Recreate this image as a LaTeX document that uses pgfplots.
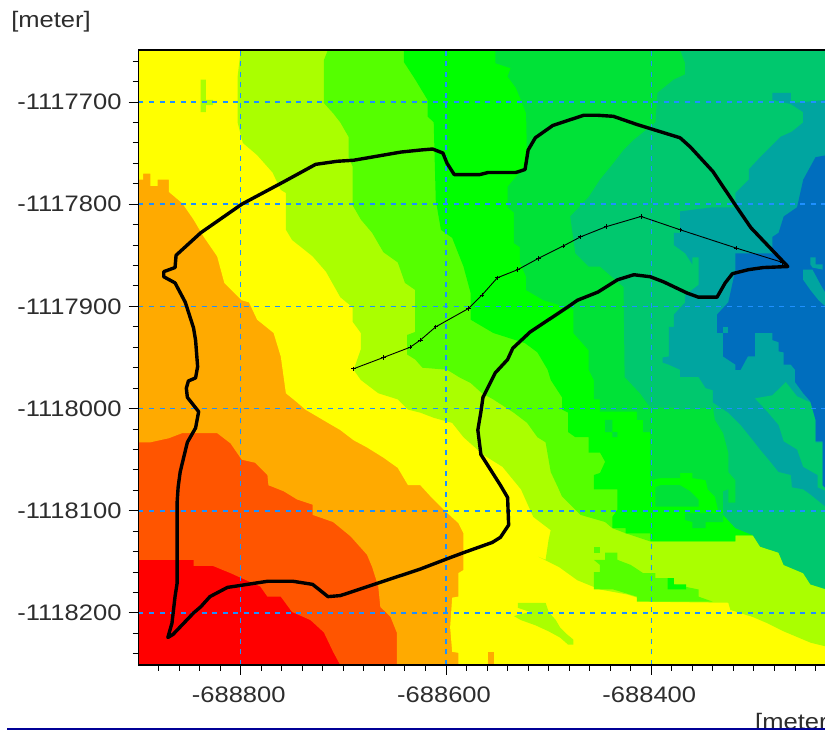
\documentclass[border=0pt]{standalone}
\usepackage{fontspec}
\setmainfont{Liberation Sans}[FakeStretch=1.14]
\usepackage{pgfplots}
\pgfplotsset{compat=1.18}
\definecolor{cA}{RGB}{255,0,0}
\definecolor{cB}{RGB}{255,85,0}
\definecolor{cC}{RGB}{255,170,0}
\definecolor{cD}{RGB}{255,255,0}
\definecolor{cE}{RGB}{170,255,0}
\definecolor{cF}{RGB}{85,255,0}
\definecolor{cG}{RGB}{0,255,0}
\definecolor{cH}{RGB}{0,226,55}
\definecolor{cI}{RGB}{0,200,110}
\definecolor{cJ}{RGB}{0,165,160}
\definecolor{cK}{RGB}{0,110,190}
\definecolor{gridblue}{RGB}{30,144,255}
\definecolor{labelgray}{RGB}{45,45,45}
\definecolor{rulenavy}{RGB}{0,0,150}
\pgfplotsset{
  frame/.style={
    at={(138.5pt,65pt)}, anchor=south west, scale only axis,
    width=687.5pt, height=615pt,
    xmin=-688899.6, xmax=-688229.8,
    ymin=-1118250.9, ymax=-1117649.1,
    scaled ticks=false,
  },
}
\newcommand{\lbl}{\fontsize{22.4}{24}\selectfont\color{labelgray}}
\begin{document}
\begin{tikzpicture}
\path[use as bounding box, clip] (0,0) rectangle (825pt,730pt);
\begin{axis}[frame,
  axis on top,
  axis line style={black, line width=1.4pt},
  xtick={-688800,-688600,-688400},
  xticklabels={-688800,-688600,-688400},
  ytick={-1117700,-1117800,-1117900,-1118000,-1118100,-1118200},
  yticklabels={-1117700,-1117800,-1117900,-1118000,-1118100,-1118200},
  minor xtick={-688880,-688860,-688840,-688820,-688780,-688760,-688740,-688720,-688700,-688680,-688660,-688640,-688620,-688580,-688560,-688540,-688520,-688500,-688480,-688460,-688440,-688420,-688380,-688360,-688340,-688320,-688300,-688280,-688260,-688240},
  minor ytick={-1117660,-1117680,-1117720,-1117740,-1117760,-1117780,-1117820,-1117840,-1117860,-1117880,-1117920,-1117940,-1117960,-1117980,-1118020,-1118040,-1118060,-1118080,-1118120,-1118140,-1118160,-1118180,-1118220,-1118240},
  xtick pos=lower, ytick pos=left, tick align=outside,
  major tick length=10pt, minor tick length=6pt,
  tick style={black, line width=1pt},
  minor tick style={black, line width=1pt},
  grid=major,
  major grid style={gridblue, line width=1.5pt, dash pattern=on 5pt off 5.5pt},
  tick label style={font=\lbl},
  xticklabel style={yshift=-8pt, xshift=-2pt},
  yticklabel style={xshift=-3.5pt},
]
% colour bands, lowest level first
\addplot[fill=cA,draw=none] coordinates {(-688900,-1117649)(-688229,-1117649)(-688229,-1118251)(-688900,-1118251)};
\addplot[fill=cB,draw=none] coordinates {(-688900,-1118148)(-688846,-1118148)(-688846,-1118154)(-688827,-1118154)(-688810,-1118161)(-688799,-1118166)(-688781,-1118174)(-688774,-1118184)(-688761,-1118184)(-688750,-1118199)(-688732,-1118207)(-688719,-1118219)(-688710,-1118238)(-688703,-1118251)(-688229,-1118251)(-688229,-1117649)(-688900,-1117649)};
\addplot[fill=cC,draw=none] coordinates {(-688900,-1118033)(-688888,-1118033)(-688870,-1118029)(-688857,-1118024)(-688823,-1118024)(-688810,-1118034)(-688799,-1118050)(-688786,-1118053)(-688774,-1118065)(-688773,-1118075)(-688758,-1118081)(-688745,-1118089)(-688730,-1118094)(-688730,-1118104)(-688710,-1118111)(-688693,-1118125)(-688677,-1118143)(-688672,-1118155)(-688666,-1118174)(-688664,-1118194)(-688654,-1118204)(-688648,-1118219)(-688648,-1118251)(-688229,-1118251)(-688229,-1117649)(-688900,-1117649)};
\addplot[fill=cD,draw=none] coordinates {(-688900,-1117776)(-688895,-1117776)(-688895,-1117770)(-688888,-1117770)(-688888,-1117782)(-688881,-1117782)(-688881,-1117776)(-688870,-1117776)(-688870,-1117788)(-688857,-1117799)(-688846,-1117815)(-688836,-1117832)(-688823,-1117851)(-688816,-1117877)(-688799,-1117894)(-688792,-1117896)(-688784,-1117913)(-688768,-1117926)(-688761,-1117949)(-688756,-1117985)(-688745,-1117994)(-688737,-1118001)(-688715,-1118014)(-688703,-1118021)(-688690,-1118031)(-688677,-1118038)(-688661,-1118048)(-688647,-1118058)(-688637,-1118075)(-688625,-1118075)(-688615,-1118086)(-688599,-1118102)(-688588,-1118112)(-688583,-1118122)(-688583,-1118158)(-688588,-1118161)(-688588,-1118184)(-688594,-1118185)(-688596,-1118214)(-688594,-1118238)(-688588,-1118239)(-688588,-1118251)(-688229,-1118251)(-688229,-1117649)(-688900,-1117649)};
\addplot[fill=cC,draw=none] coordinates {(-688559,-1118238)(-688553,-1118238)(-688553,-1118251)(-688559,-1118251)};
\addplot[fill=cE,draw=none] coordinates {(-688800,-1117649)(-688803,-1117675)(-688803,-1117720)(-688798,-1117740)(-688784,-1117752)(-688769,-1117769)(-688761,-1117786)(-688756,-1117789)(-688756,-1117825)(-688750,-1117835)(-688730,-1117851)(-688717,-1117866)(-688703,-1117891)(-688691,-1117901)(-688691,-1117915)(-688683,-1117926)(-688683,-1117942)(-688690,-1117962)(-688683,-1117972)(-688666,-1117985)(-688647,-1117991)(-688637,-1118001)(-688625,-1118004)(-688612,-1118009)(-688594,-1118014)(-688583,-1118028)(-688564,-1118045)(-688545,-1118057)(-688527,-1118079)(-688515,-1118106)(-688498,-1118119)(-688500,-1118128)(-688503,-1118148)(-688510,-1118145)(-688490,-1118155)(-688472,-1118168)(-688450,-1118177)(-688423,-1118182)(-688401,-1118189)(-688325,-1118190)(-688323,-1118197)(-688301,-1118204)(-688287,-1118210)(-688271,-1118218)(-688245,-1118229)(-688229,-1118233)(-688229,-1117649)};
\addplot[fill=cE,draw=none] coordinates {(-688839,-1117678)(-688834,-1117678)(-688834,-1117698)(-688827,-1117698)(-688827,-1117703)(-688834,-1117703)(-688834,-1117710)(-688839,-1117710)};
\addplot[fill=cE,draw=none] coordinates {(-688792,-1117733)(-688786,-1117733)(-688786,-1117740)(-688792,-1117740)};
\addplot[fill=cE,draw=none] coordinates {(-688530,-1118190)(-688503,-1118190)(-688500,-1118199)(-688493,-1118207)(-688489,-1118214)(-688482,-1118221)(-688476,-1118226)(-688476,-1118231)(-688481,-1118231)(-688489,-1118224)(-688500,-1118218)(-688513,-1118212)(-688527,-1118207)(-688534,-1118203)(-688518,-1118199)(-688530,-1118195)};
\addplot[fill=cF,draw=none] coordinates {(-688715,-1117649)(-688719,-1117659)(-688719,-1117701)(-688710,-1117711)(-688703,-1117720)(-688695,-1117734)(-688695,-1117754)(-688691,-1117763)(-688691,-1117801)(-688683,-1117815)(-688672,-1117828)(-688661,-1117847)(-688647,-1117857)(-688640,-1117877)(-688630,-1117884)(-688630,-1117925)(-688638,-1117928)(-688638,-1117947)(-688630,-1117952)(-688623,-1117960)(-688599,-1117962)(-688586,-1117970)(-688576,-1117975)(-688565,-1117985)(-688554,-1117991)(-688534,-1118004)(-688521,-1118014)(-688511,-1118028)(-688503,-1118033)(-688498,-1118062)(-688491,-1118077)(-688487,-1118086)(-688479,-1118094)(-688469,-1118104)(-688445,-1118111)(-688438,-1118117)(-688425,-1118122)(-688401,-1118130)(-688318,-1118130)(-688318,-1118124)(-688301,-1118124)(-688294,-1118135)(-688276,-1118141)(-688271,-1118153)(-688252,-1118161)(-688245,-1118172)(-688229,-1118177)(-688229,-1117649)};
\addplot[fill=cF,draw=none] coordinates {(-688456,-1118148)(-688445,-1118148)(-688445,-1118141)(-688433,-1118141)(-688433,-1118148)(-688420,-1118153)(-688408,-1118161)(-688396,-1118161)(-688396,-1118166)(-688384,-1118166)(-688378,-1118172)(-688354,-1118177)(-688354,-1118184)(-688340,-1118189)(-688414,-1118189)(-688414,-1118184)(-688437,-1118177)(-688456,-1118177)(-688456,-1118160)(-688450,-1118160)(-688450,-1118153)};
\addplot[fill=cF,draw=none] coordinates {(-688456,-1118135)(-688450,-1118135)(-688450,-1118141)(-688456,-1118141)};
\addplot[fill=cG,draw=none] coordinates {(-688384,-1118166)(-688378,-1118166)(-688378,-1118172)(-688366,-1118172)(-688366,-1118177)(-688384,-1118177)};
\addplot[fill=cG,draw=none] coordinates {(-688641,-1117649)(-688641,-1117661)(-688630,-1117678)(-688618,-1117698)(-688618,-1117714)(-688612,-1117720)(-688610,-1117796)(-688605,-1117825)(-688594,-1117833)(-688583,-1117861)(-688576,-1117887)(-688576,-1117913)(-688554,-1117926)(-688523,-1117936)(-688511,-1117945)(-688501,-1117962)(-688498,-1117972)(-688487,-1117989)(-688487,-1118001)(-688481,-1118004)(-688481,-1118023)(-688474,-1118028)(-688461,-1118028)(-688461,-1118043)(-688450,-1118043)(-688445,-1118052)(-688450,-1118063)(-688456,-1118065)(-688456,-1118079)(-688433,-1118079)(-688433,-1118099)(-688438,-1118106)(-688438,-1118117)(-688425,-1118117)(-688425,-1118122)(-688401,-1118122)(-688401,-1118130)(-688318,-1118130)(-688318,-1118124)(-688229,-1118124)(-688229,-1117649)};
\addplot[fill=cH,draw=none] coordinates {(-688552,-1117649)(-688552,-1117662)(-688537,-1117667)(-688540,-1117675)(-688532,-1117686)(-688527,-1117698)(-688522,-1117711)(-688521,-1117760)(-688540,-1117783)(-688540,-1117803)(-688534,-1117808)(-688534,-1117838)(-688528,-1117842)(-688528,-1117857)(-688522,-1117871)(-688522,-1117884)(-688505,-1117894)(-688476,-1117903)(-688476,-1117926)(-688461,-1117943)(-688461,-1117962)(-688456,-1117972)(-688456,-1117991)(-688450,-1117991)(-688450,-1118003)(-688414,-1118003)(-688414,-1118011)(-688408,-1118011)(-688408,-1118023)(-688401,-1118023)(-688401,-1118070)(-688391,-1118068)(-688372,-1118068)(-688372,-1118063)(-688360,-1118063)(-688360,-1118068)(-688347,-1118070)(-688345,-1118079)(-688338,-1118086)(-688335,-1118099)(-688229,-1118099)(-688229,-1117649)};
\addplot[fill=cH,draw=none] coordinates {(-688396,-1118077)(-688391,-1118075)(-688372,-1118075)(-688362,-1118081)(-688354,-1118089)(-688354,-1118096)(-688396,-1118096)};
\addplot[fill=cH,draw=none] coordinates {(-688367,-1118102)(-688330,-1118102)(-688330,-1118111)(-688347,-1118111)(-688347,-1118117)(-688360,-1118117)(-688360,-1118111)(-688367,-1118109)};
\addplot[fill=cH,draw=none] coordinates {(-688445,-1118011)(-688438,-1118011)(-688438,-1118023)(-688433,-1118023)(-688433,-1118028)(-688438,-1118028)(-688438,-1118023)(-688445,-1118023)};
\addplot[fill=cI,draw=none] coordinates {(-688372,-1117649)(-688367,-1117662)(-688367,-1117673)(-688378,-1117678)(-688394,-1117691)(-688396,-1117720)(-688417,-1117737)(-688427,-1117747)(-688437,-1117760)(-688450,-1117776)(-688461,-1117793)(-688479,-1117812)(-688474,-1117848)(-688461,-1117861)(-688450,-1117861)(-688427,-1117881)(-688426,-1117969)(-688411,-1117985)(-688401,-1117999)(-688376,-1117999)(-688372,-1118001)(-688340,-1117999)(-688338,-1118011)(-688330,-1118024)(-688325,-1118043)(-688325,-1118062)(-688318,-1118070)(-688318,-1118092)(-688325,-1118092)(-688325,-1118079)(-688330,-1118081)(-688330,-1118104)(-688318,-1118117)(-688301,-1118124)(-688294,-1118135)(-688276,-1118141)(-688271,-1118153)(-688252,-1118161)(-688245,-1118172)(-688229,-1118177)(-688229,-1117649)};
\addplot[fill=cJ,draw=none] coordinates {(-688229,-1117698)(-688264,-1117701)(-688264,-1117691)(-688282,-1117691)(-688282,-1117698)(-688264,-1117702)(-688252,-1117710)(-688252,-1117720)(-688263,-1117729)(-688274,-1117734)(-688294,-1117754)(-688305,-1117766)(-688305,-1117776)(-688318,-1117789)(-688318,-1117803)(-688340,-1117803)(-688372,-1117807)(-688372,-1117828)(-688378,-1117828)(-688378,-1117840)(-688367,-1117848)(-688360,-1117859)(-688360,-1117852)(-688354,-1117852)(-688354,-1117879)(-688367,-1117889)(-688367,-1117896)(-688378,-1117908)(-688378,-1117920)(-688383,-1117920)(-688383,-1117949)(-688389,-1117950)(-688389,-1117955)(-688383,-1117957)(-688372,-1117962)(-688372,-1117969)(-688354,-1117969)(-688347,-1117980)(-688340,-1117982)(-688340,-1117994)(-688325,-1118004)(-688313,-1118016)(-688301,-1118031)(-688294,-1118040)(-688284,-1118052)(-688276,-1118062)(-688264,-1118065)(-688263,-1118077)(-688252,-1118079)(-688245,-1118084)(-688229,-1118097)};
\addplot[fill=cI,draw=none] coordinates {(-688299,-1117990)(-688282,-1117987)(-688269,-1117974)(-688258,-1117988)(-688245,-1117994)(-688240,-1118011)(-688240,-1118033)(-688233,-1118033)(-688233,-1118075)(-688229,-1118081)(-688238,-1118077)(-688238,-1118065)(-688252,-1118057)(-688258,-1118040)(-688271,-1118032)(-688276,-1118016)(-688287,-1118003)};
\addplot[fill=cK,draw=none] coordinates {(-688229,-1117752)(-688240,-1117754)(-688252,-1117776)(-688258,-1117803)(-688271,-1117812)(-688276,-1117828)(-688282,-1117832)(-688282,-1117848)(-688318,-1117848)(-688318,-1117864)(-688325,-1117896)(-688336,-1117908)(-688336,-1117926)(-688330,-1117926)(-688330,-1117949)(-688318,-1117957)(-688318,-1117962)(-688313,-1117962)(-688306,-1117949)(-688299,-1117949)(-688299,-1117926)(-688282,-1117926)(-688282,-1117933)(-688276,-1117935)(-688276,-1117944)(-688271,-1117945)(-688271,-1117957)(-688264,-1117957)(-688260,-1117962)(-688260,-1117974)(-688252,-1117985)(-688245,-1117993)(-688240,-1118011)(-688240,-1118032)(-688233,-1118032)(-688233,-1118075)(-688229,-1118079)};
\addplot[fill=cJ,draw=none] coordinates {(-688330,-1117920)(-688325,-1117920)(-688325,-1117926)(-688330,-1117926)};
\addplot[fill=cJ,draw=none] coordinates {(-688252,-1117864)(-688243,-1117864)(-688235,-1117879)(-688229,-1117889)(-688229,-1117901)(-688237,-1117894)(-688245,-1117884)(-688252,-1117874)};
\addplot[fill=cJ,draw=none] coordinates {(-688245,-1117852)(-688240,-1117852)(-688240,-1117859)(-688233,-1117859)(-688233,-1117864)(-688243,-1117862)(-688245,-1117859)};
\end{axis}
\begin{axis}[frame, hide axis]
% boundary
\addplot[black, line width=3.4pt, line join=round] coordinates {(-688799,-1117800)(-688758,-1117778)(-688727,-1117761)(-688706,-1117758)(-688690,-1117757)(-688644,-1117749)(-688625,-1117747)(-688613,-1117746)(-688603,-1117750)(-688599,-1117760)(-688592,-1117771)(-688567,-1117771)(-688559,-1117769)(-688532,-1117769)(-688523,-1117766)(-688520,-1117747)(-688513,-1117735)(-688496,-1117723)(-688466,-1117713)(-688452,-1117713)(-688437,-1117714)(-688414,-1117722)(-688372,-1117735)(-688362,-1117744)(-688340,-1117768)(-688318,-1117801)(-688303,-1117823)(-688267,-1117861)(-688291,-1117862)(-688305,-1117864)(-688321,-1117868)(-688328,-1117877)(-688336,-1117891)(-688354,-1117891)(-688365,-1117887)(-688388,-1117876)(-688401,-1117871)(-688417,-1117869)(-688433,-1117874)(-688452,-1117886)(-688472,-1117894)(-688482,-1117901)(-688518,-1117925)(-688535,-1117941)(-688540,-1117952)(-688552,-1117965)(-688564,-1117989)(-688566,-1118003)(-688569,-1118021)(-688566,-1118045)(-688547,-1118075)(-688540,-1118087)(-688539,-1118114)(-688547,-1118126)(-688555,-1118131)(-688583,-1118141)(-688599,-1118147)(-688625,-1118157)(-688664,-1118170)(-688703,-1118183)(-688715,-1118184)(-688730,-1118172)(-688749,-1118169)(-688774,-1118169)(-688800,-1118173)(-688813,-1118175)(-688830,-1118184)(-688839,-1118194)(-688846,-1118200)(-688866,-1118221)(-688871,-1118224)(-688867,-1118210)(-688864,-1118184)(-688862,-1118171)(-688862,-1118092)(-688861,-1118077)(-688859,-1118062)(-688852,-1118033)(-688844,-1118019)(-688841,-1118003)(-688852,-1117989)(-688853,-1117980)(-688851,-1117973)(-688844,-1117970)(-688842,-1117959)(-688844,-1117933)(-688846,-1117921)(-688854,-1117896)(-688864,-1117877)(-688875,-1117871)(-688875,-1117866)(-688864,-1117862)(-688863,-1117850)(-688839,-1117828)(-688799,-1117800)};
% river line
\addplot[black, line width=0.9pt, mark=+, mark size=2.2pt, mark options={line width=0.8pt}] coordinates {(-688690,-1117961)(-688661,-1117950)(-688635,-1117940)(-688625,-1117933)(-688610,-1117920)(-688578,-1117902)(-688565,-1117889)(-688550,-1117872)(-688530,-1117864)(-688510,-1117853)(-688486,-1117841)(-688469,-1117832)(-688444,-1117822)(-688410,-1117812)(-688372,-1117825)(-688317,-1117843)(-688272,-1117857)};
\end{axis}
\node[anchor=center, font=\lbl] at (51pt,708pt) {[meter]};
\node[anchor=west, inner sep=0pt, font=\lbl] at (755pt,6.5pt) {[meter]};
\fill[rulenavy] (7pt,0) rectangle (825pt,2pt);
\end{tikzpicture}
\end{document}
